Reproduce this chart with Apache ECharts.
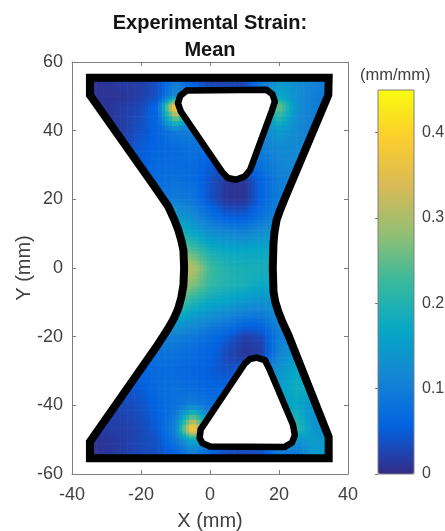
<!DOCTYPE html>
<html><head><meta charset="utf-8">
<style>html,body{margin:0;padding:0;background:#fff}#c{width:445px;height:531px}</style>
<script src="https://cdn.jsdelivr.net/npm/echarts@6/dist/echarts.min.js"></script>
</head><body><div id="c"></div>
<script>
// Strain, hundredths of mm/mm, at the nodes below (mm).
const xNodes = [-35,-30,-25,-20,-15,-10,-5,0,5,10,15,20,25,30,35];
const yNodes = [55,50,47,40,35,30,25,20,15,10,5,0,-5,-10,-15,-20,-25,-30,-35,-40,-47,-50,-55];
const strainRows = [
 [1,1,2,2,4,9,4,2,2,2,9,14,13,11,10],
 [1,1,1,2,4,13,9,5,5,5,10,17,13,10,9],
 [1,1,2,3,7,43,12,10,10,10,12,27,13,10,10],
 [1,1,2,4,6,10,10,9,9,9,11,15,12,10,10],
 [2,3,3,5,6,7,8,7,7,7,10,12,12,11,11],
 [3,4,4,5,7,7,7,5,3,6,8,11,12,12,12],
 [5,6,6,6,7,8,7,4,1,1,6,10,11,11,11],
 [8,9,9,9,9,10,9,4,1,1,6,10,11,11,11],
 [12,13,13,13,14,15,12,8,5,5,8,11,12,12,12],
 [18,18,18,18,18,21,17,13,12,11,13,15,15,15,15],
 [27,27,27,27,27,27,24,19,17,17,17,18,18,18,18],
 [32,32,32,32,32,33,31,23,20,19,19,19,19,19,19],
 [28,28,28,28,28,30,27,22,20,19,17,18,18,18,18],
 [22,22,22,22,23,25,20,17,16,14,13,14,14,14,14],
 [15,15,15,15,16,16,14,12,10,8,8,12,13,13,13],
 [9,9,9,9,10,10,9,7,5,2,3,10,12,13,13],
 [6,6,7,7,8,8,7,6,3,1,2,11,14,15,15],
 [4,5,5,6,7,7,6,5,4,5,8,14,17,17,17],
 [3,3,4,5,7,8,7,6,6,7,10,15,18,18,18],
 [2,2,3,4,6,8,10,8,8,9,11,15,17,13,13],
 [1,2,2,3,5,11,42,14,10,10,12,19,22,14,13],
 [1,1,2,3,4,9,18,10,7,7,9,22,14,15,13],
 [1,1,2,3,4,5,8,5,2,2,2,6,7,15,14]
];
// Specimen edges, mm
const leftEdge = [[-34.8,50.4],[-16.4,24.2],[-14,20.7],[-12.1,17.9],[-10.4,14.2],[-9.2,11.1],[-8.3,8],[-7.7,5.2],[-7.5,0],[-7.7,-5],[-8.3,-8.5],[-9.2,-11.8],[-10.5,-14.8],[-12.1,-17.6],[-15.5,-22.9],[-34.8,-50.6]];
const rightEdge = [[34.3,50.4],[21.7,20.3],[20.3,16.8],[19.3,14],[18.7,10.5],[18.4,7.2],[18.2,0],[18.4,-6.9],[18.9,-9.8],[19.8,-12.7],[21,-15.8],[22.7,-19.5],[34.4,-49.2]];
const topHole = [[-6.7,51.7],[16.4,51.9],[18.1,50.6],[18.8,48.5],[18,46],[11.6,28.5],[10,26.6],[7.5,25.7],[5.2,26.2],[3.5,28],[-8.4,45.5],[-9.3,48],[-8.6,50.2],[-6.7,51.7]];
const bottomHole = [[13.5,-26.1],[15.9,-26.8],[17.2,-29.4],[24,-45.5],[24.6,-48.7],[23.8,-50.8],[21.7,-52.1],[0,-52],[-2.2,-51],[-3,-49.5],[-2.7,-47],[10.1,-27.8],[11.6,-26.5],[13.5,-26.1]];
const topEdge = [[0,55.4],[34.4,55.4]];
const bottomEdge = [[34.4,-55.4],[-34.8,-55.4]];
const topCloseEdge = [[-34.8,55.4],[0,55.4]];
const parula = ['#352a87','#0363e1','#1485d4','#06a7c6','#38b99e','#92bf73','#d9ba56','#fcce2e','#f9fb0e'];
const xTicks = {min:-40,max:40,interval:20};
const yTicks = {min:-60,max:60,interval:20};
const barMax = 0.45;

const outline = [...topEdge, ...rightEdge, ...bottomEdge, ...leftEdge.slice().reverse(), ...topCloseEdge];
const masks = [
  [...leftEdge, [-38,-50.6], [-38,50.4]],
  [...rightEdge, [38,-49.2], [38,50.4]],
  topHole, bottomHole
];
const nodes = [];
yNodes.forEach((y,r)=>xNodes.forEach((x,c)=>nodes.push([x,y,strainRows[r][c]/100,r,c])));
const colorOf = v => echarts.color.lerp(Math.min(1,v/barMax), parula);
const SUB = 5;
function shadeCell(params, api){
  const r = api.value(3), c = api.value(4);
  if (r >= yNodes.length-1 || c >= xNodes.length-1) return;
  const v00 = strainRows[r][c]/100, v10 = strainRows[r][c+1]/100,
        v01 = strainRows[r+1][c]/100, v11 = strainRows[r+1][c+1]/100;
  const x0 = xNodes[c], x1 = xNodes[c+1], y0 = yNodes[r], y1 = yNodes[r+1];
  const children = [];
  for (let i=0;i<SUB;i++) for (let j=0;j<SUB;j++){
    const u=(i+.5)/SUB, w=(j+.5)/SUB;
    const a = api.coord([x0+(x1-x0)*i/SUB, y0+(y1-y0)*j/SUB]);
    const b = api.coord([x0+(x1-x0)*(i+1)/SUB, y0+(y1-y0)*(j+1)/SUB]);
    const v = (v00*(1-u)+v10*u)*(1-w)+(v01*(1-u)+v11*u)*w;
    children.push({type:'rect',shape:{x:a[0],y:a[1],width:b[0]-a[0]+.6,height:b[1]-a[1]+.6},style:{fill:colorOf(v)}});
  }
  return {type:'group',children};
}
function drawMask(params, api){
  const pts = masks[api.value(0)].map(p=>api.coord(p));
  return {type:'polygon',shape:{points:pts},style:{fill:'#fff'}};
}
const axisCol = '#7f7f7f', txt = '#404040', font = '"Liberation Sans", Arial, sans-serif';
const lineOf = (data,w,z,join)=>({type:'line',data,xAxisIndex:0,yAxisIndex:0,symbol:'none',z,silent:true,clip:false,
  lineStyle:{color:'#000',width:w,join,cap:'round'},animation:false});
const chart = echarts.init(document.getElementById('c'),null,{renderer:'canvas'});
const boxAxis = {show:true,axisLine:{show:true,onZero:false,lineStyle:{color:axisCol,width:1}},axisLabel:{show:false},axisTick:{show:true,inside:true,length:4,lineStyle:{color:axisCol}},splitLine:{show:false}};
chart.setOption({
  animation:false,
  backgroundColor:'#fff',
  textStyle:{fontFamily:font},
  title:{text:'Experimental Strain:\nMean',left:210,top:10,padding:0,textAlign:'center',
    textStyle:{fontFamily:font,fontSize:20,fontWeight:'bold',color:'#141414',lineHeight:27}},
  grid:[
    {left:72,top:62,width:276,height:412,show:false,outerBoundsMode:'none'},
    {left:378,top:90,width:36,height:384,show:true,z:10,backgroundColor:'transparent',borderColor:axisCol,borderWidth:1,outerBoundsMode:'none'}
  ],
  xAxis:[
    {type:'value',gridIndex:0,position:'bottom',...xTicks,...boxAxis,
     axisLabel:{show:true,fontSize:18,color:txt,margin:12,fontFamily:font},
     name:'X (mm)',nameLocation:'middle',nameGap:37,nameMoveOverlap:false,nameTextStyle:{fontSize:20,color:txt,fontFamily:font}},
    {type:'value',gridIndex:0,position:'top',...xTicks,...boxAxis},
    {type:'value',gridIndex:1,min:0,max:1,show:false}
  ],
  yAxis:[
    {type:'value',gridIndex:0,position:'left',...yTicks,...boxAxis,
     axisLabel:{show:true,fontSize:18,color:txt,margin:9,fontFamily:font},
     name:'Y (mm)',nameLocation:'middle',nameGap:38,nameMoveOverlap:false,nameTextStyle:{fontSize:20,color:txt,fontFamily:font}},
    {type:'value',gridIndex:0,position:'right',...yTicks,...boxAxis},
    {type:'value',gridIndex:1,position:'right',min:0,max:barMax,interval:0.1,z:11,
     axisLine:{show:false},axisTick:{show:true,inside:true,length:3,lineStyle:{color:axisCol}},splitLine:{show:false},
     axisLabel:{show:true,showMaxLabel:false,fontSize:16,color:txt,margin:8,fontFamily:font,formatter:v=>String(+v.toFixed(1))}}
  ],
  visualMap:[{type:'continuous',seriesIndex:0,dimension:2,min:0,max:barMax,left:378,top:90,itemWidth:36,itemHeight:384,
    padding:0,calculable:false,realtime:false,text:null,showLabel:false,inRange:{color:parula},borderWidth:0}],
  series:[
    {type:'custom',coordinateSystem:'cartesian2d',xAxisIndex:0,yAxisIndex:0,data:nodes,encode:{x:0,y:1},renderItem:shadeCell,z:1,silent:true,clip:false},
    {type:'custom',coordinateSystem:'cartesian2d',xAxisIndex:0,yAxisIndex:0,data:masks.map((m,i)=>[i,0]),encode:{},renderItem:drawMask,z:2,silent:true,clip:false},
    lineOf(outline,8,3,'miter'),
    lineOf(topHole,6.5,3,'round'),
    lineOf(bottomHole,6.5,3,'round')
  ],
  graphic:[{type:'text',left:360,top:67,z:20,style:{text:'(mm/mm)',fontSize:16.5,fill:txt,fontFamily:font}}]
});
</script></body></html>
